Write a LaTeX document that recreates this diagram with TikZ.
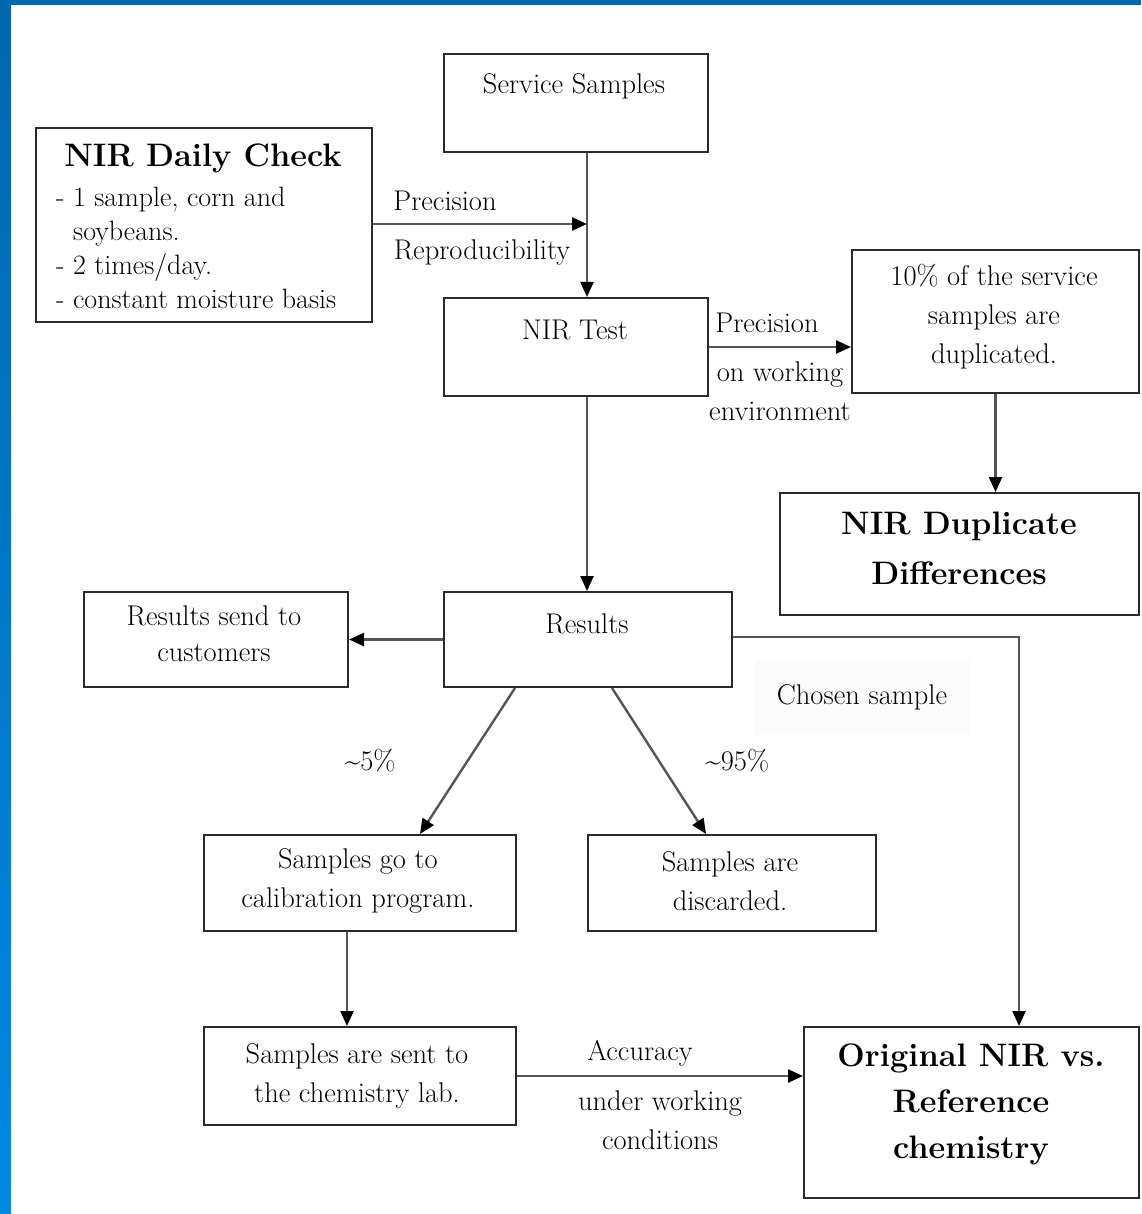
\documentclass[tikz,border=0pt]{standalone}
\usetikzlibrary{arrows.meta,calc}
\definecolor{borderblue}{HTML}{0067B1}
\definecolor{borderblue2}{HTML}{0089E3}
\definecolor{boxline}{HTML}{2A2A2A}
\definecolor{arrline}{HTML}{555555}
\begin{document}
\begin{tikzpicture}[x=1pt,y=-1pt,
  box/.style={draw=boxline, line width=2pt, rectangle, inner sep=0pt, fill=white},
  txt/.style={inner sep=0pt, align=center, font=\fontsize{28.5}{39}\selectfont},
  btxt/.style={inner sep=0pt, align=center, font=\fontsize{32.5}{47}\selectfont\bfseries},
  arr/.style={draw=arrline, line width=2.4pt, -{Triangle[length=15pt,width=13pt,color=black]}},
  ]
\path[use as bounding box] (0,0) rectangle (1141,1214);
\fill[white] (0,0) rectangle (1141,1214);
\fill[borderblue] (0,0) rectangle (1141,5);
\shade[top color=borderblue, bottom color=borderblue2] (0,0) rectangle (11,1214);

% boxes
\node[box, minimum width=264pt, minimum height=98pt] (ss) at (576,103) {};
\node[box, minimum width=336pt, minimum height=194pt] (dc) at (204,225) {};
\node[box, minimum width=264pt, minimum height=98pt] (nt) at (576,347) {};
\node[box, minimum width=287pt, minimum height=143pt] (dup) at (995.5,321.5) {};
\node[box, minimum width=359pt, minimum height=122pt] (dd) at (959.5,554) {};
\node[box, minimum width=264pt, minimum height=95pt] (rc) at (216,639.5) {};
\node[box, minimum width=288pt, minimum height=95pt] (res) at (588,639.5) {};
\node[box, minimum width=312pt, minimum height=96pt] (cal) at (360,883) {};
\node[box, minimum width=288pt, minimum height=96pt] (dis) at (732,883) {};
\node[box, minimum width=312pt, minimum height=98pt] (lab) at (360,1076) {};
\node[box, minimum width=335pt, minimum height=171pt] (orig) at (971.5,1112.5) {};

% texts in boxes
\node[txt] (tss) at (574,86) {Service Samples};
\node[btxt] (tdc) at (203,158) {NIR Daily Check};
\node[txt, anchor=west, align=left, font=\fontsize{28}{34}\selectfont] (tdcl) at (56,248)
  {- 1 sample, corn and\\\hspace*{17pt}soybeans.\\- 2 times/day.\\- constant moisture basis};
\node[txt] (tnt) at (575,330) {NIR Test};
\node[txt] (tdup) at (994,317) {10\% of the service\\samples are\\duplicated.};
\node[btxt, font=\fontsize{32.5}{50}\selectfont\bfseries] (tdd) at (959,548) {NIR Duplicate\\Differences};
\node[txt, font=\fontsize{28.5}{36}\selectfont] (trc) at (214,634) {Results send to\\customers};
\node[txt] (tres) at (587,624) {Results};
\node[txt] (tcal) at (358,881) {Samples go to\\calibration program.};
\node[txt] (tdis) at (730,881) {Samples are\\discarded.};
\node[txt] (tlab) at (357,1075.5) {Samples are sent to\\the chemistry lab.};
\node[btxt, font=\fontsize{32.5}{46}\selectfont\bfseries] (torig) at (971,1104) {Original NIR vs.\\Reference\\chemistry};

% connectors
\coordinate (j) at (587,224);
\coordinate (ch) at (1019,637);
\draw[arr] (dc.east |- j) -- (j);
\draw[arr] (ss.south -| j) -- (nt.north -| j);
\draw[arr] (nt.south -| j) -- (res.north -| j);
\draw[arr] (nt.east) -- (dup.west |- nt.east);
\draw[arr] (dup.south) -- (dup.south |- dd.north);
\draw[arr] (res.west) -- (rc.east);
\draw[arr] (res.east |- ch) -- (ch) -- (ch |- orig.north);
\draw[arr] ([xshift=-73pt]res.south) -- ([xshift=60pt]cal.north);
\draw[arr] ([xshift=24pt]res.south) -- ([xshift=-26pt]dis.north);
\draw[arr] ([xshift=-13pt]cal.south) -- ([xshift=-13pt]lab.north);
\draw[arr] (lab.east) -- (lab.east -| orig.west);

% connector labels
\node[txt] (lp1) at (445,201) {Precision};
\node[txt] (lr1) at (482,253) {Reproducibility};
\node[txt] (lp2) at (767,323) {Precision};
\node[txt] (lw2) at (780,391) {on working\\environment};
\node[txt, fill=black!1.5, minimum width=215pt, minimum height=75pt] (lcs) at (862,697) {Chosen sample};
\node[txt] (l5) at (370,761) {\textasciitilde 5\%};
\node[txt] (l95) at (737,761) {\textasciitilde 95\%};
\node[txt] (lacc) at (640,1053) {Accuracy};
\node[txt] (luwc) at (660,1120.5) {under working\\conditions};
\end{tikzpicture}
\end{document}
